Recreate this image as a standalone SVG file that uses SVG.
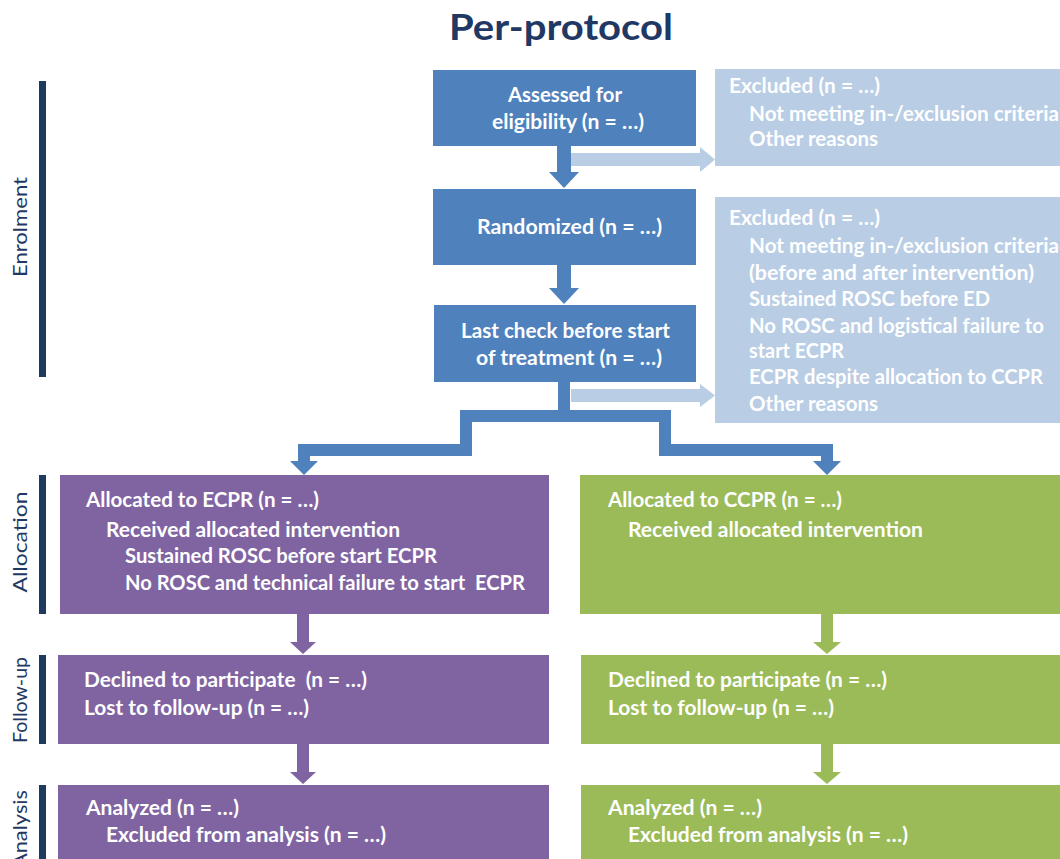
<svg xmlns="http://www.w3.org/2000/svg" width="1060" height="859" viewBox="0 0 1060 859">
<style>
text{font-family:Lato,"Open Sans","Liberation Sans",sans-serif;}
.t{font-size:20px;font-weight:bold;fill:#ffffff;}
.title{font-size:36px;font-weight:bold;fill:#1F3864;}
.side{font-size:19px;font-weight:normal;fill:#1F3864;}
.bar{fill:#1F3A5F;}
.blue{fill:#4F81BD;}
.light{fill:#B9CDE5;}
.purple{fill:#8064A2;}
.green{fill:#9BBB59;}
</style>
<rect width="1060" height="859" fill="#ffffff"/>
<text class="title" x="449" y="40" textLength="224" lengthAdjust="spacingAndGlyphs">Per-protocol</text>

<g id="stages">
<rect class="bar" x="39" y="81" width="7" height="296"/>
<text class="side" transform="translate(27,227) rotate(-90)" text-anchor="middle" textLength="100" lengthAdjust="spacingAndGlyphs">Enrolment</text>
<rect class="bar" x="39" y="475" width="7" height="139"/>
<text class="side" transform="translate(27,542) rotate(-90)" text-anchor="middle" textLength="101" lengthAdjust="spacingAndGlyphs">Allocation</text>
<rect class="bar" x="39" y="655" width="7" height="89"/>
<text class="side" transform="translate(27,700) rotate(-90)" text-anchor="middle" textLength="86" lengthAdjust="spacingAndGlyphs">Follow-up</text>
<rect class="bar" x="39" y="785" width="7" height="80"/>
<text class="side" transform="translate(27,829) rotate(-90)" text-anchor="middle" textLength="78" lengthAdjust="spacingAndGlyphs">Analysis</text>
</g>

<g id="connectors">
<polygon class="light" points="571,153 700,153 700,147 715,159.5 700,172 700,166 571,166"/>
<polygon class="light" points="571,389 700,389 700,384 715,395.5 700,407 700,402 571,402"/>
<polygon class="blue" points="557,146 571,146 571,172 579,172 564,188 549,172 557,172"/>
<polygon class="blue" points="557,265 571,265 571,288 579,288 564,304 549,288 557,288"/>
<polygon class="blue" points="558,382 570,382 570,410 671,410 671,444 833,444 833,461 841,461 827,475 813,461 821,461 821,456 659,456 659,422 472,422 472,456 310,456 310,461 318,461 304,475 290,461 298,461 298,444 460,444 460,410 558,410"/>
<polygon class="purple" points="297,614 309,614 309,642 316,642 303,654 290,642 297,642"/>
<polygon class="purple" points="297,744 309,744 309,772 316,772 303,784 290,772 297,772"/>
<polygon class="green" points="821,614 833,614 833,642 841,642 827,654 813,642 821,642"/>
<polygon class="green" points="821,744 833,744 833,772 841,772 827,784 813,772 821,772"/>
</g>

<g id="assessed">
<rect class="blue" x="433" y="70" width="263" height="76"/>
<text class="t" x="508" y="102" textLength="114" lengthAdjust="spacingAndGlyphs">Assessed for</text>
<text class="t" x="492" y="129" textLength="152" lengthAdjust="spacingAndGlyphs">eligibility (n = …)</text>
</g>
<g id="randomized">
<rect class="blue" x="433" y="189" width="263" height="76"/>
<text class="t" x="477" y="234" textLength="185" lengthAdjust="spacingAndGlyphs">Randomized (n = …)</text>
</g>
<g id="lastcheck">
<rect class="blue" x="434" y="305" width="262" height="77"/>
<text class="t" x="461" y="338" textLength="209" lengthAdjust="spacingAndGlyphs">Last check before start</text>
<text class="t" x="476" y="365" textLength="186" lengthAdjust="spacingAndGlyphs">of treatment (n = …)</text>
</g>
<g id="excluded1">
<rect class="light" x="715" y="69" width="360" height="97"/>
<text class="t" x="729" y="93" textLength="151" lengthAdjust="spacingAndGlyphs">Excluded (n = …)</text>
<text class="t" x="749" y="121" textLength="310" lengthAdjust="spacingAndGlyphs">Not meeting in-/exclusion criteria</text>
<text class="t" x="749" y="146" textLength="129" lengthAdjust="spacingAndGlyphs">Other reasons</text>
</g>
<g id="excluded2">
<rect class="light" x="715" y="197" width="360" height="226"/>
<text class="t" x="729" y="225" textLength="151" lengthAdjust="spacingAndGlyphs">Excluded (n = …)</text>
<text class="t" x="749" y="253" textLength="310" lengthAdjust="spacingAndGlyphs">Not meeting in-/exclusion criteria</text>
<text class="t" x="749" y="280" textLength="285" lengthAdjust="spacingAndGlyphs">(before and after intervention)</text>
<text class="t" x="749" y="306" textLength="241" lengthAdjust="spacingAndGlyphs">Sustained ROSC before ED</text>
<text class="t" x="749" y="333" textLength="295" lengthAdjust="spacingAndGlyphs">No ROSC and logistical failure to</text>
<text class="t" x="749" y="358" textLength="95" lengthAdjust="spacingAndGlyphs">start ECPR</text>
<text class="t" x="749" y="384" textLength="294" lengthAdjust="spacingAndGlyphs">ECPR despite allocation to CCPR</text>
<text class="t" x="749" y="411" textLength="129" lengthAdjust="spacingAndGlyphs">Other reasons</text>
</g>

<g id="ecpr-allocation">
<rect class="purple" x="60" y="475" width="489" height="139"/>
<text class="t" x="86" y="507" textLength="233" lengthAdjust="spacingAndGlyphs">Allocated to ECPR (n = …)</text>
<text class="t" x="106" y="537" textLength="294" lengthAdjust="spacingAndGlyphs">Received allocated intervention</text>
<text class="t" x="125" y="563" textLength="312" lengthAdjust="spacingAndGlyphs">Sustained ROSC before start ECPR</text>
<text class="t" x="125" y="590" textLength="400" lengthAdjust="spacingAndGlyphs" xml:space="preserve">No ROSC and technical failure to start  ECPR</text>
</g>
<g id="ecpr-followup">
<rect class="purple" x="58" y="655" width="491" height="89"/>
<text class="t" x="84" y="687" textLength="283" lengthAdjust="spacingAndGlyphs" xml:space="preserve">Declined to participate  (n = …)</text>
<text class="t" x="84" y="715" textLength="225" lengthAdjust="spacingAndGlyphs">Lost to follow-up (n = …)</text>
</g>
<g id="ecpr-analysis">
<rect class="purple" x="58" y="785" width="491" height="80"/>
<text class="t" x="86" y="815" textLength="153" lengthAdjust="spacingAndGlyphs">Analyzed (n = …)</text>
<text class="t" x="106" y="842" textLength="280" lengthAdjust="spacingAndGlyphs">Excluded from analysis (n = …)</text>
</g>

<g id="ccpr-allocation">
<rect class="green" x="580" y="475" width="495" height="139"/>
<text class="t" x="608" y="507" textLength="234" lengthAdjust="spacingAndGlyphs">Allocated to CCPR (n = …)</text>
<text class="t" x="628" y="537" textLength="295" lengthAdjust="spacingAndGlyphs">Received allocated intervention</text>
</g>
<g id="ccpr-followup">
<rect class="green" x="581" y="655" width="494" height="89"/>
<text class="t" x="608" y="687" textLength="279" lengthAdjust="spacingAndGlyphs">Declined to participate (n = …)</text>
<text class="t" x="608" y="715" textLength="226" lengthAdjust="spacingAndGlyphs">Lost to follow-up (n = …)</text>
</g>
<g id="ccpr-analysis">
<rect class="green" x="581" y="785" width="494" height="80"/>
<text class="t" x="608" y="815" textLength="154" lengthAdjust="spacingAndGlyphs">Analyzed (n = …)</text>
<text class="t" x="628" y="842" textLength="280" lengthAdjust="spacingAndGlyphs">Excluded from analysis (n = …)</text>
</g>
</svg>
